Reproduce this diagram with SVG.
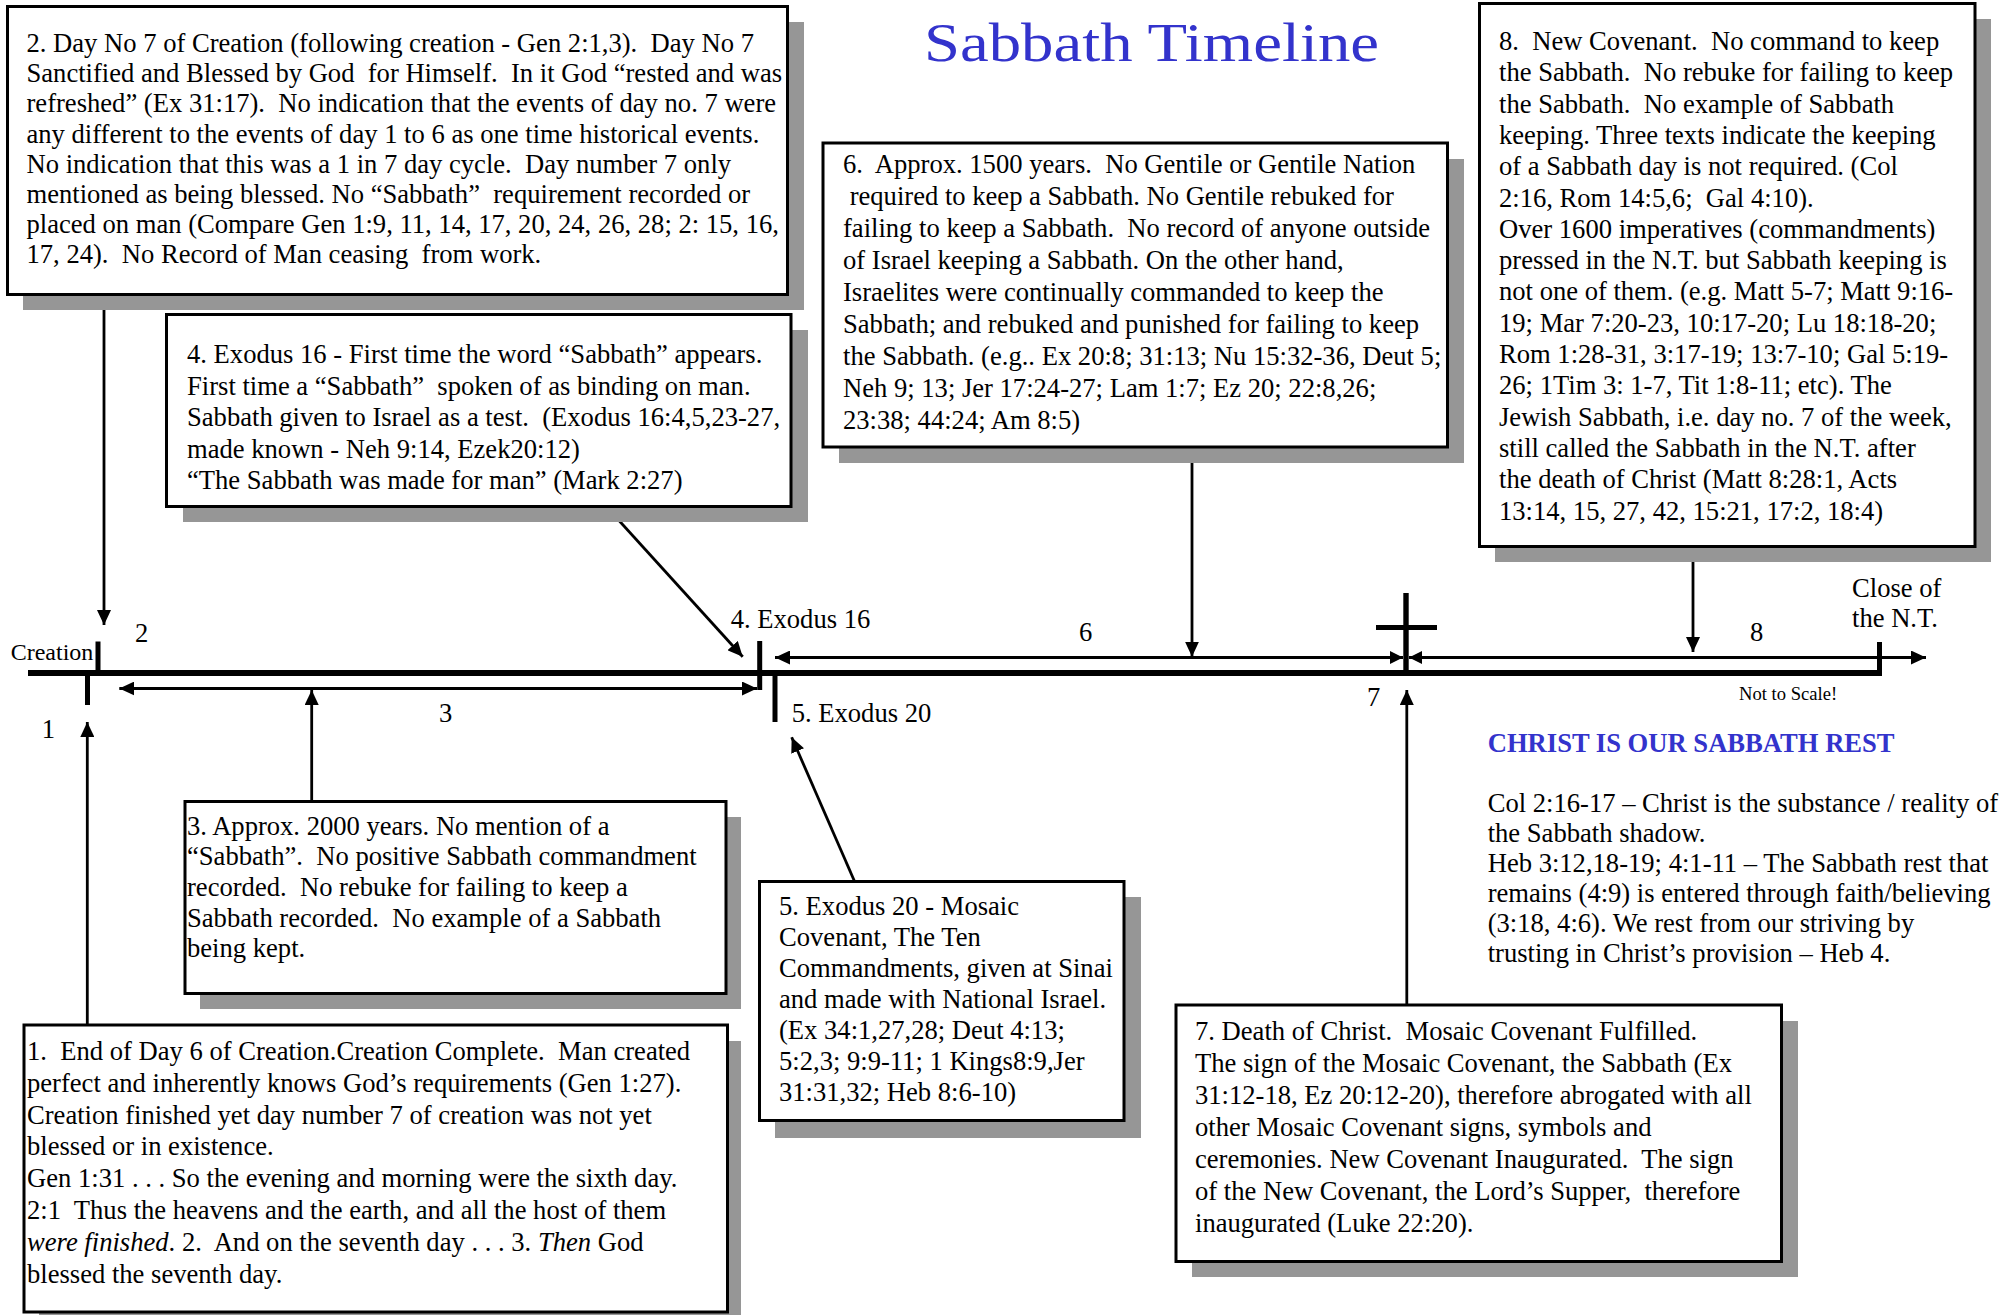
<svg xmlns="http://www.w3.org/2000/svg" width="2007" height="1315" viewBox="0 0 2007 1315" xml:space="preserve">
<style>
  .bg { fill: #ffffff; }
  .shadow { fill: #969696; stroke: none; }
  .box { fill: #ffffff; stroke: #000000; stroke-width: 3; }
  .t { font-family: "Liberation Serif", "Times New Roman", serif; font-size: 26.6px; fill: #000000; white-space: pre; }
  .lbl { font-family: "Liberation Serif", "Times New Roman", serif; font-size: 26.6px; fill: #000000; white-space: pre; }
  .title { font-family: "Liberation Serif", "Times New Roman", serif; font-size: 55px; fill: #3333cc; }
  .head { font-family: "Liberation Serif", "Times New Roman", serif; font-size: 26.6px; font-weight: bold; fill: #3333cc; }
  .conn { stroke: #000000; stroke-width: 2.8; fill: none; }
  .thick { stroke: #000000; stroke-width: 6; fill: none; }
  .tick { stroke: #000000; stroke-width: 5; fill: none; }
</style>
<defs>
  <marker id="ah" viewBox="0 0 15 14" refX="15" refY="7" markerWidth="15" markerHeight="14" markerUnits="userSpaceOnUse" orient="auto-start-reverse">
    <path d="M0,0 L15,7 L0,14 Z" fill="#000000"/>
  </marker>
  <marker id="ahs" viewBox="0 0 13 13" refX="13" refY="6.5" markerWidth="13" markerHeight="13" markerUnits="userSpaceOnUse" orient="auto-start-reverse">
    <path d="M0,0 L13,6.5 L0,13 Z" fill="#000000"/>
  </marker>
</defs>
<rect class="bg" x="0" y="0" width="2007" height="1315"/>

<g id="title">
  <text class="title" x="924" y="61" textLength="455" lengthAdjust="spacingAndGlyphs">Sabbath Timeline</text>
</g>

<g id="connectors">
  <!-- main timeline -->
  <line class="thick" x1="28" y1="673" x2="1882" y2="673"/>
  <line class="tick" x1="98" y1="641.5" x2="98" y2="673"/>
  <line class="tick" x1="87.5" y1="673" x2="87.5" y2="705"/>
  <line class="tick" x1="759.7" y1="641" x2="759.7" y2="690"/>
  <line class="tick" x1="775" y1="673" x2="775" y2="722"/>
  <line class="tick" x1="1879.5" y1="642" x2="1879.5" y2="676"/>
  <!-- cross -->
  <line class="tick" x1="1406" y1="593" x2="1406" y2="673" style="stroke-width:5.4"/>
  <line class="tick" x1="1376" y1="627.5" x2="1437" y2="627.5"/>
  <!-- period arrows -->
  <line class="conn" x1="119.3" y1="688.5" x2="757" y2="688.5" marker-start="url(#ah)" marker-end="url(#ah)"/>
  <line class="conn" x1="775" y1="657.5" x2="1403" y2="657.5" marker-start="url(#ah)" marker-end="url(#ahs)"/>
  <line class="conn" x1="1409" y1="657.5" x2="1926" y2="657.5" marker-start="url(#ahs)" marker-end="url(#ah)"/>
  <!-- box pointers -->
  <line class="conn" x1="104" y1="296" x2="104" y2="625" marker-end="url(#ah)"/>
  <line class="conn" x1="87.3" y1="1024" x2="87.3" y2="722" marker-end="url(#ah)"/>
  <line class="conn" x1="311.7" y1="800" x2="311.7" y2="690" marker-end="url(#ah)"/>
  <line class="conn" x1="606.7" y1="507" x2="742.7" y2="656.7" marker-end="url(#ah)"/>
  <line class="conn" x1="854.4" y1="881" x2="791.7" y2="737.3" marker-end="url(#ah)"/>
  <line class="conn" x1="1192" y1="448" x2="1192" y2="656.7" marker-end="url(#ah)"/>
  <line class="conn" x1="1406.8" y1="1004" x2="1406.8" y2="690" marker-end="url(#ah)"/>
  <line class="conn" x1="1693" y1="547" x2="1693" y2="652" marker-end="url(#ah)"/>
</g>

<g id="timeline-labels">
  <text class="lbl" x="10.7" y="660" style="font-size:24px">Creation</text>
  <text class="lbl" x="135" y="641.5">2</text>
  <text class="lbl" x="41.7" y="738">1</text>
  <text class="lbl" x="439" y="721.7">3</text>
  <text class="lbl" x="730.7" y="628.3">4. Exodus 16</text>
  <text class="lbl" x="791.7" y="721.7">5. Exodus 20</text>
  <text class="lbl" x="1079" y="641">6</text>
  <text class="lbl" x="1367" y="705.7">7</text>
  <text class="lbl" x="1750" y="641">8</text>
  <text class="lbl" x="1852" y="597">Close of</text>
  <text class="lbl" x="1852" y="626.7">the N.T.</text>
  <text class="lbl" x="1739" y="700" style="font-size:18.6px">Not to Scale!</text>
</g>

<g id="node-2">
  <rect class="shadow" x="23" y="22" width="781" height="288"/>
  <rect class="box" x="7.5" y="6.5" width="780" height="288"/>
  <text class="t" x="26.5" y="52">2. Day No 7 of Creation (following creation - Gen 2:1,3).  Day No 7</text>
  <text class="t" x="26.5" y="82.2">Sanctified and Blessed by God  for Himself.  In it God “rested and was</text>
  <text class="t" x="26.5" y="112.4">refreshed” (Ex 31:17).  No indication that the events of day no. 7 were</text>
  <text class="t" x="26.5" y="142.6">any different to the events of day 1 to 6 as one time historical events.</text>
  <text class="t" x="26.5" y="172.8">No indication that this was a 1 in 7 day cycle.  Day number 7 only</text>
  <text class="t" x="26.5" y="203">mentioned as being blessed. No “Sabbath”  requirement recorded or</text>
  <text class="t" x="26.5" y="233.2">placed on man (Compare Gen 1:9, 11, 14, 17, 20, 24, 26, 28; 2: 15, 16,</text>
  <text class="t" x="26.5" y="263.4">17, 24).  No Record of Man ceasing  from work.</text>
</g>

<g id="node-4">
  <rect class="shadow" x="183" y="330" width="625" height="192"/>
  <rect class="box" x="166.5" y="314.5" width="624.5" height="192"/>
  <text class="t" x="187" y="363">4. Exodus 16 - First time the word “Sabbath” appears.</text>
  <text class="t" x="187" y="394.6">First time a “Sabbath”  spoken of as binding on man.</text>
  <text class="t" x="187" y="426.2">Sabbath given to Israel as a test.  (Exodus 16:4,5,23-27,</text>
  <text class="t" x="187" y="457.8">made known - Neh 9:14, Ezek20:12)</text>
  <text class="t" x="187" y="489.4">“The Sabbath was made for man” (Mark 2:27)</text>
</g>

<g id="node-6">
  <rect class="shadow" x="839" y="159" width="625" height="304"/>
  <rect class="box" x="823" y="143" width="624.5" height="304"/>
  <text class="t" x="843" y="173">6.  Approx. 1500 years.  No Gentile or Gentile Nation</text>
  <text class="t" x="843" y="205"> required to keep a Sabbath. No Gentile rebuked for</text>
  <text class="t" x="843" y="237">failing to keep a Sabbath.  No record of anyone outside</text>
  <text class="t" x="843" y="269">of Israel keeping a Sabbath. On the other hand,</text>
  <text class="t" x="843" y="301">Israelites were continually commanded to keep the</text>
  <text class="t" x="843" y="333">Sabbath; and rebuked and punished for failing to keep</text>
  <text class="t" x="843" y="365">the Sabbath. (e.g.. Ex 20:8; 31:13; Nu 15:32-36, Deut 5;</text>
  <text class="t" x="843" y="397">Neh 9; 13; Jer 17:24-27; Lam 1:7; Ez 20; 22:8,26;</text>
  <text class="t" x="843" y="429">23:38; 44:24; Am 8:5)</text>
</g>

<g id="node-8">
  <rect class="shadow" x="1495" y="19" width="496" height="543"/>
  <rect class="box" x="1479.5" y="3.5" width="495.5" height="543"/>
  <text class="t" x="1499" y="50">8.  New Covenant.  No command to keep</text>
  <text class="t" x="1499" y="81.3">the Sabbath.  No rebuke for failing to keep</text>
  <text class="t" x="1499" y="112.6">the Sabbath.  No example of Sabbath</text>
  <text class="t" x="1499" y="143.9">keeping. Three texts indicate the keeping</text>
  <text class="t" x="1499" y="175.2">of a Sabbath day is not required. (Col</text>
  <text class="t" x="1499" y="206.5">2:16, Rom 14:5,6;  Gal 4:10).</text>
  <text class="t" x="1499" y="237.8">Over 1600 imperatives (commandments)</text>
  <text class="t" x="1499" y="269.1">pressed in the N.T. but Sabbath keeping is</text>
  <text class="t" x="1499" y="300.4">not one of them. (e.g. Matt 5-7; Matt 9:16-</text>
  <text class="t" x="1499" y="331.7">19; Mar 7:20-23, 10:17-20; Lu 18:18-20;</text>
  <text class="t" x="1499" y="363">Rom 1:28-31, 3:17-19; 13:7-10; Gal 5:19-</text>
  <text class="t" x="1499" y="394.3">26; 1Tim 3: 1-7, Tit 1:8-11; etc). The</text>
  <text class="t" x="1499" y="425.6">Jewish Sabbath, i.e. day no. 7 of the week,</text>
  <text class="t" x="1499" y="456.9">still called the Sabbath in the N.T. after</text>
  <text class="t" x="1499" y="488.2">the death of Christ (Matt 8:28:1, Acts</text>
  <text class="t" x="1499" y="519.5">13:14, 15, 27, 42, 15:21, 17:2, 18:4)</text>
</g>

<g id="node-3">
  <rect class="shadow" x="200" y="817" width="541" height="192"/>
  <rect class="box" x="185" y="801.5" width="541" height="192"/>
  <text class="t" x="187" y="834.6">3. Approx. 2000 years. No mention of a</text>
  <text class="t" x="187" y="865.3">“Sabbath”.  No positive Sabbath commandment</text>
  <text class="t" x="187" y="896">recorded.  No rebuke for failing to keep a</text>
  <text class="t" x="187" y="926.7">Sabbath recorded.  No example of a Sabbath</text>
  <text class="t" x="187" y="957.4">being kept.</text>
</g>

<g id="node-1">
  <rect class="shadow" x="39" y="1041" width="702" height="290"/>
  <rect class="box" x="24" y="1025" width="703.5" height="287"/>
  <text class="t" x="27" y="1060">1.  End of Day 6 of Creation.Creation Complete.  Man created</text>
  <text class="t" x="27" y="1091.8">perfect and inherently knows God’s requirements (Gen 1:27).</text>
  <text class="t" x="27" y="1123.6">Creation finished yet day number 7 of creation was not yet</text>
  <text class="t" x="27" y="1155.4">blessed or in existence.</text>
  <text class="t" x="27" y="1187.2">Gen 1:31 . . . So the evening and morning were the sixth day.</text>
  <text class="t" x="27" y="1219">2:1  Thus the heavens and the earth, and all the host of them</text>
  <text class="t" x="27" y="1250.8"><tspan font-style="italic">were finished</tspan>. 2.  And on the seventh day . . . 3. <tspan font-style="italic">Then</tspan> God</text>
  <text class="t" x="27" y="1282.6">blessed the seventh day.</text>
</g>

<g id="node-5">
  <rect class="shadow" x="775" y="897" width="366" height="241"/>
  <rect class="box" x="759.5" y="881.5" width="364.5" height="239"/>
  <text class="t" x="779" y="914.8">5. Exodus 20 - Mosaic</text>
  <text class="t" x="779" y="945.9">Covenant, The Ten</text>
  <text class="t" x="779" y="977">Commandments, given at Sinai</text>
  <text class="t" x="779" y="1008.1">and made with National Israel.</text>
  <text class="t" x="779" y="1039.2">(Ex 34:1,27,28; Deut 4:13;</text>
  <text class="t" x="779" y="1070.3">5:2,3; 9:9-11; 1 Kings8:9,Jer</text>
  <text class="t" x="779" y="1101.4">31:31,32; Heb 8:6-10)</text>
</g>

<g id="node-7">
  <rect class="shadow" x="1192" y="1021" width="606" height="256"/>
  <rect class="box" x="1176" y="1005" width="605.5" height="256.5"/>
  <text class="t" x="1195" y="1040">7. Death of Christ.  Mosaic Covenant Fulfilled.</text>
  <text class="t" x="1195" y="1072">The sign of the Mosaic Covenant, the Sabbath (Ex</text>
  <text class="t" x="1195" y="1104">31:12-18, Ez 20:12-20), therefore abrogated with all</text>
  <text class="t" x="1195" y="1136">other Mosaic Covenant signs, symbols and</text>
  <text class="t" x="1195" y="1168">ceremonies. New Covenant Inaugurated.  The sign</text>
  <text class="t" x="1195" y="1200">of the New Covenant, the Lord’s Supper,  therefore</text>
  <text class="t" x="1195" y="1232">inaugurated (Luke 22:20).</text>
</g>

<g id="christ-rest">
  <text class="head" x="1487.7" y="751.7">CHRIST IS OUR SABBATH REST</text>
  <text class="t" x="1487.7" y="811.7">Col 2:16-17 – Christ is the substance / reality of</text>
  <text class="t" x="1487.7" y="841.7">the Sabbath shadow.</text>
  <text class="t" x="1487.7" y="871.7">Heb 3:12,18-19; 4:1-11 – The Sabbath rest that</text>
  <text class="t" x="1487.7" y="901.7">remains (4:9) is entered through faith/believing</text>
  <text class="t" x="1487.7" y="931.7">(3:18, 4:6). We rest from our striving by</text>
  <text class="t" x="1487.7" y="961.7">trusting in Christ’s provision – Heb 4.</text>
</g>
</svg>
